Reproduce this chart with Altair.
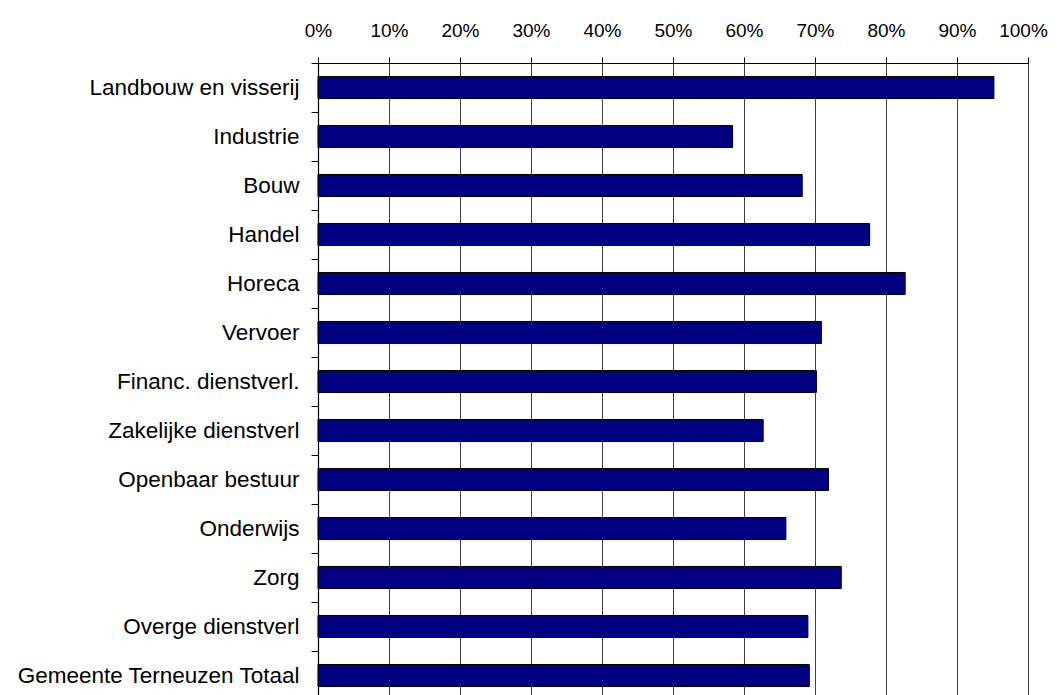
import altair as alt
import pandas as pd

categories = [
    "Landbouw en visserij", "Industrie", "Bouw", "Handel", "Horeca", "Vervoer",
    "Financ. dienstverl.", "Zakelijke dienstverl", "Openbaar bestuur",
    "Onderwijs", "Zorg", "Overge dienstverl", "Gemeente Terneuzen Totaal",
]
values = [0.952, 0.584, 0.682, 0.777, 0.827, 0.709, 0.702, 0.627, 0.719,
          0.659, 0.737, 0.690, 0.692]
x_ticks = [0, 0.1, 0.2, 0.3, 0.4, 0.5, 0.6, 0.7, 0.8, 0.9, 1.0]

df = pd.DataFrame({"cat": categories, "val": values})

FONT = "Liberation Sans"

chart = alt.Chart(df).mark_bar(
    color="#000080", stroke="#000000", strokeWidth=1
).encode(
    x=alt.X("val:Q",
            scale=alt.Scale(domain=[0, 1], nice=False),
            axis=alt.Axis(orient="top", format="%", values=x_ticks, title=None,
                          grid=True, gridColor="#404040", gridWidth=1,
                          domainColor="#000000", domainWidth=1.2,
                          tickColor="#000000", tickSize=6,
                          labelFont=FONT, labelFontSize=19, labelColor="#000000",
                          labelPadding=17, labelFlush=False,
                          labelOffset={"condition": {"test": "datum.value >= 1", "value": -5},
                                       "value": 0})),
    y=alt.Y("cat:N", sort=categories,
            scale=alt.Scale(paddingInner=0.55, paddingOuter=0.275),
            axis=alt.Axis(title=None, tickOffset=-24.5, labelOffset=24.5,
                          domainColor="#000000", domainWidth=1.2,
                          tickColor="#000000", tickSize=7,
                          labelFont=FONT, labelFontSize=22.5, labelColor="#000000",
                          labelPadding=12, labelLimit=400)),
).properties(
    width=710, height=637,
    autosize=alt.AutoSizeParams(type="none"),
    padding={"left": 310, "top": 55, "right": 21, "bottom": 0},
).configure_view(stroke=None)

chart.save("out.html", embed_options={"renderer": "svg", "actions": False})
